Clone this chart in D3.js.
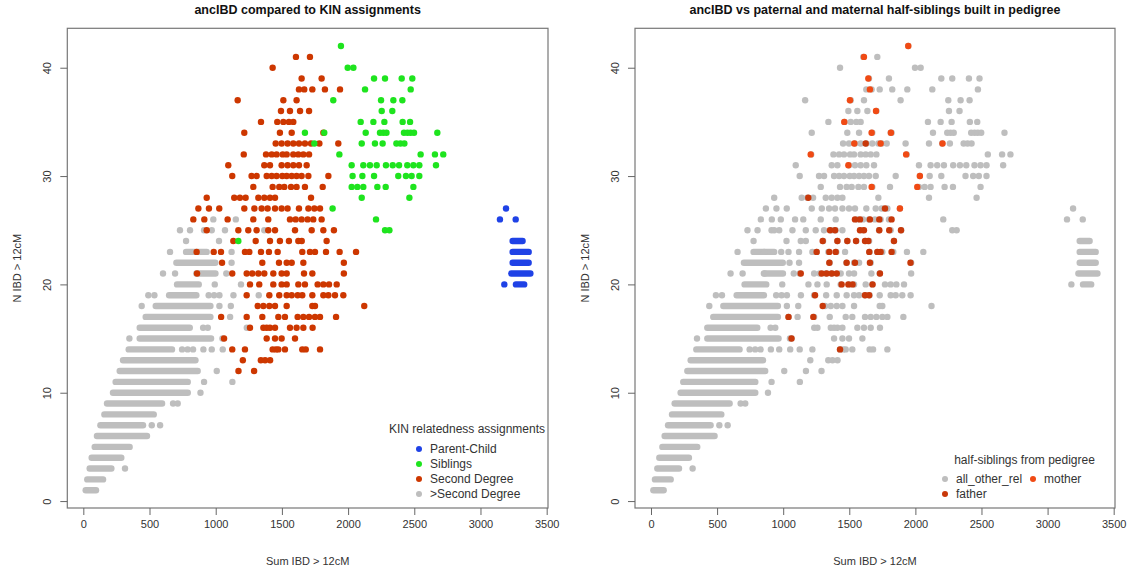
<!DOCTYPE html>
<html>
<head>
<meta charset="utf-8">
<script src="https://cdn.jsdelivr.net/npm/d3@7"></script>
<style>
  body { margin: 0; background: #fff; }
  svg { font-family: "Liberation Sans", Arial, sans-serif; }
</style>
</head>
<body>
<svg id="chart" width="1130" height="569"></svg>
<script>
// axis ticks
const xTicks = [0, 500, 1000, 1500, 2000, 2500, 3000, 3500];
const yTicks = [0, 10, 20, 30, 40];

// dense bars of overlapping points: [N IBD, first Sum IBD, last Sum IBD]
const otherRuns = [
  [1, 18, 96], [2, 30, 149], [3, 48, 212], [4, 63, 287], [5, 86, 350], [6, 103, 481],
  [7, 129, 451], [8, 159, 532], [9, 179, 595], [10, 224, 789], [11, 244, 789], [12, 275, 864],
  [13, 300, 847], [14, 343, 670], [15, 426, 965], [16, 426, 804], [17, 471, 960], [18, 547, 960],
  [19, 648, 854], [20, 708, 872], [21, 854, 998], [22, 703, 997], [23, 776, 932]
];
const parentRuns = [[24, 3243, 3318], [23, 3243, 3364], [22, 3243, 3364], [21, 3233, 3377], [20, 3268, 3330]];

// single points, per row: [N IBD, [Sum IBD ...]]
const otherRows = [
  [3, [315]], [7, [517, 580]], [9, [678, 713]], [10, [885]], [11, [912, 1126]], [12, [1008]],
  [14, [746, 788, 829, 907, 970, 1053]], [15, [348, 1051]], [16, [905, 940, 1235]], [17, [1109]],
  [18, [441, 1028, 1114]], [19, [491, 537, 947, 988, 1028, 1134, 1325]], [20, [993, 1191]],
  [21, [602, 693, 1080]], [22, [1120]], [23, [655, 1120]], [24, [776, 1025]],
  [25, [730, 806, 912, 970, 1070, 1367]], [26, [982, 1152]]
];
const secondRows = [
  [12, [1172, 1290]],
  [13, [1205, 1341, 1373, 1411]],
  [14, [1125, 1221, 1430, 1455, 1473, 1523, 1654, 1680, 1788]],
  [15, [1063, 1385, 1448, 1498, 1599]],
  [16, [1259, 1360, 1385, 1410, 1448, 1561, 1611, 1662, 1732]],
  [17, [1041, 1234, 1352, 1473, 1523, 1619, 1662, 1705, 1750, 1788, 1909]],
  [18, [1317, 1360, 1405, 1448, 1536, 1730, 1750, 2122]],
  [19, [1234, 1405, 1480, 1536, 1574, 1619, 1654, 1730, 1813, 1851, 1901, 1964]],
  [20, [1259, 1329, 1435, 1498, 1536, 1624, 1674, 1770, 1813, 1856, 1914]],
  [21, [859, 1125, 1234, 1276, 1322, 1367, 1435, 1498, 1536, 1667, 1730, 1968]],
  [22, [1048, 1352, 1478, 1536, 1574, 1662, 1968]],
  [23, [856, 985, 1040, 1221, 1254, 1342, 1402, 1468, 1654, 1712, 1750, 1833, 1936, 2060]],
  [24, [1133, 1302, 1410, 1485, 1553, 1624, 1650, 1838]],
  [25, [932, 1171, 1246, 1309, 1397, 1448, 1599, 1725, 1813, 1893]],
  [26, [831, 914, 1090, 1284, 1397, 1561, 1604, 1649, 1694, 1737, 1800]],
  [27, [869, 949, 1027, 1216, 1292, 1347, 1392, 1448, 1498, 1543, 1629, 1700, 1745, 1788]],
  [28, [932, 1140, 1183, 1226, 1322, 1367, 1410, 1448, 1720]],
  [29, [1284, 1430, 1480, 1518, 1569, 1611, 1674, 1808]],
  [30, [1125, 1271, 1309, 1385, 1423, 1460, 1503, 1536, 1574, 1611, 1649, 1700, 1851]],
  [31, [1095, 1367, 1410, 1498, 1543, 1586, 1629, 1687]],
  [32, [1212, 1380, 1423, 1460, 1506, 1536, 1586, 1624, 1662, 1705]],
  [33, [1453, 1498, 1543, 1586, 1629, 1674, 1720, 1783, 1926]],
  [34, [1216, 1485, 1574, 1813]],
  [35, [1342, 1465, 1511, 1553, 1586]],
  [36, [1493, 1561, 1637, 1705]],
  [37, [1166, 1511, 1611]],
  [38, [1629, 1669, 1730, 1825, 1939]],
  [39, [1649, 1800]],
  [40, [1430]],
  [41, [1606, 1712]]
];
const siblingRows = [
  [42, [1946]],
  [40, [1997, 2040]],
  [39, [2196, 2279, 2405, 2485]],
  [38, [2128, 2473]],
  [37, [1888, 2249, 2342, 2410]],
  [36, [2254, 2334]],
  [35, [2095, 2191, 2274, 2412, 2468]],
  [34, [1674, 1820, 2133, 2241, 2266, 2290, 2422, 2448, 2472, 2498, 2674]],
  [33, [1745, 2103, 2203, 2261, 2365, 2395, 2425]],
  [32, [1934, 2548, 2656, 2719]],
  [31, [2027, 2115, 2165, 2216, 2286, 2337, 2385, 2447, 2493, 2538, 2664]],
  [30, [2034, 2108, 2196, 2379, 2437, 2480, 2538]],
  [29, [2027, 2070, 2115, 2221, 2284, 2493]],
  [28, [2103, 2463]],
  [27, [1883]],
  [26, [2211]],
  [25, [2279, 2312]],
  [24, [1171]]
];
const parentRows = [[27, [3193]], [26, [3147, 3266]], [20, [3180]]];

// half-siblings from pedigree (right panel)
const motherRows = [
  [42, [1946]], [41, [1611]], [39, [1644]], [38, [1656]], [37, [1505]], [36, [1702]],
  [35, [1462]], [34, [1669, 1815]], [33, [1538, 1737, 2205]], [32, [1208, 1930]],
  [31, [1493]], [30, [2034]], [29, [1669, 2014]], [27, [1883]]
];
const fatherRows = [
  [33, [1624]], [28, [1190]], [27, [1770]],
  [26, [1543, 1581, 1656, 1727, 1820]],
  [25, [1354, 1392, 1581, 1611, 1727, 1802, 1891]],
  [24, [1299, 1410, 1485, 1551, 1619, 1644, 1838]],
  [23, [1253, 1349, 1397, 1651, 1712, 1737, 1820]],
  [22, [1349, 1480, 1543, 1656, 1963]],
  [21, [1133, 1291, 1329, 1367, 1405, 1732]],
  [20, [1442, 1493, 1525, 1676]],
  [19, [1241, 1619, 1650]],
  [18, [1299]], [17, [1040, 1228]], [15, [1063]], [14, [1430]]
];

const kinLabels = ["Parent-Child", "Siblings", "Second Degree", ">Second Degree"];
const kinColors = ["#1f42e6", "#1ee41e", "#cd3700", "#bebebe"];
const pedLabels = ["all_other_rel", "mother", "father"];
const pedColors = ["#bebebe", "#f04a14", "#c8380a"];

const toDots = rows => rows.flatMap(([n, xs]) => xs.map(v => [v, n]));

const svg = d3.select("#chart");
const plotTop = 28.3, plotBottom = 508, R = 3.2;
const xDomain = [-121, 3510], yDomain = [-0.64, 43.64];

function drawPanel(x0, x1, title, layers) {
  const x = d3.scaleLinear().domain(xDomain).range([x0, x1]);
  const y = d3.scaleLinear().domain(yDomain).range([plotBottom, plotTop]);
  const g = svg.append("g");

  layers.forEach(l => {
    g.append("g").selectAll("line").data(l.runs || []).join("line")
      .attr("x1", d => x(d[1])).attr("x2", d => x(d[2]))
      .attr("y1", d => y(d[0])).attr("y2", d => y(d[0]))
      .attr("stroke", l.color).attr("stroke-width", 2 * R).attr("stroke-linecap", "round");
    g.append("g").selectAll("circle").data(l.dots).join("circle")
      .attr("cx", d => x(d[0])).attr("cy", d => y(d[1]))
      .attr("r", R).attr("fill", l.color);
  });

  g.append("rect")
    .attr("x", x0).attr("y", plotTop)
    .attr("width", x1 - x0).attr("height", plotBottom - plotTop)
    .attr("fill", "none").attr("stroke", "#777").attr("stroke-width", 1.2);

  const xa = g.append("g").attr("transform", `translate(0,${plotBottom})`)
    .call(d3.axisBottom(x).tickValues(xTicks).tickFormat(d3.format("d")).tickSize(7).tickPadding(5));
  xa.select(".domain").remove();
  xa.selectAll("line").attr("stroke", "#666");
  xa.selectAll("text").attr("fill", "#333").style("font-size", "11px")
    .style("font-family", "Liberation Sans, Arial, sans-serif");

  const ya = g.append("g").attr("transform", `translate(${x0},0)`)
    .call(d3.axisLeft(y).tickValues(yTicks).tickFormat(d3.format("d")).tickSize(7));
  ya.select(".domain").remove();
  ya.selectAll("line").attr("stroke", "#666");
  ya.selectAll("text")
    .attr("transform", "rotate(-90)").attr("x", 0).attr("y", -16).attr("dy", 0)
    .attr("text-anchor", "middle").attr("fill", "#333").style("font-size", "11px")
    .style("font-family", "Liberation Sans, Arial, sans-serif");

  const cx = (x0 + x1) / 2;
  g.append("text").attr("x", cx).attr("y", 14).attr("text-anchor", "middle")
    .style("font-size", "12.5px").style("font-weight", "bold").attr("fill", "#111").text(title);
  g.append("text").attr("x", cx).attr("y", 565).attr("text-anchor", "middle")
    .style("font-size", "11px").attr("fill", "#333").text("Sum IBD > 12cM");
  g.append("text").attr("transform", `translate(${x0 - 46},${(plotTop + plotBottom) / 2}) rotate(-90)`)
    .attr("text-anchor", "middle").style("font-size", "11px").attr("fill", "#333").text("N IBD > 12cM");
  return g;
}

// left panel: KIN assignments
const leftPanel = drawPanel(67.3, 548, "ancIBD compared to KIN assignments", [
  { color: kinColors[3], runs: otherRuns, dots: toDots(otherRows) },
  { color: kinColors[2], dots: toDots(secondRows) },
  { color: kinColors[1], dots: toDots(siblingRows) },
  { color: kinColors[0], runs: parentRuns, dots: toDots(parentRows) }
]);
leftPanel.append("text").attr("x", 467).attr("y", 433).attr("text-anchor", "middle")
  .style("font-size", "12px").attr("fill", "#333").text("KIN relatedness assignments");
kinLabels.forEach((lab, i) => {
  const yy = 449 + i * 15;
  leftPanel.append("circle").attr("cx", 419).attr("cy", yy).attr("r", 3).attr("fill", kinColors[i]);
  leftPanel.append("text").attr("x", 430).attr("y", yy + 4).style("font-size", "12px")
    .attr("fill", "#333").text(lab);
});

// right panel: same pairs, half-siblings highlighted
const allRuns = otherRuns.concat(parentRuns);
const allDots = toDots(otherRows).concat(toDots(secondRows), toDots(siblingRows), toDots(parentRows));
const rightPanel = drawPanel(635, 1115, "ancIBD vs paternal and maternal half-siblings built in pedigree", [
  { color: pedColors[0], runs: allRuns, dots: allDots },
  { color: pedColors[2], dots: toDots(fatherRows) },
  { color: pedColors[1], dots: toDots(motherRows) }
]);
rightPanel.append("text").attr("x", 1024.5).attr("y", 464).attr("text-anchor", "middle")
  .style("font-size", "12px").attr("fill", "#333").text("half-siblings from pedigree");
[[945, 479, 0], [1033, 479, 1], [945, 494, 2]].forEach(([bx, by, i]) => {
  rightPanel.append("circle").attr("cx", bx).attr("cy", by).attr("r", 3).attr("fill", pedColors[i]);
  rightPanel.append("text").attr("x", bx + 11).attr("y", by + 4).style("font-size", "12px")
    .attr("fill", "#333").text(pedLabels[i]);
});
</script>
</body>
</html>
